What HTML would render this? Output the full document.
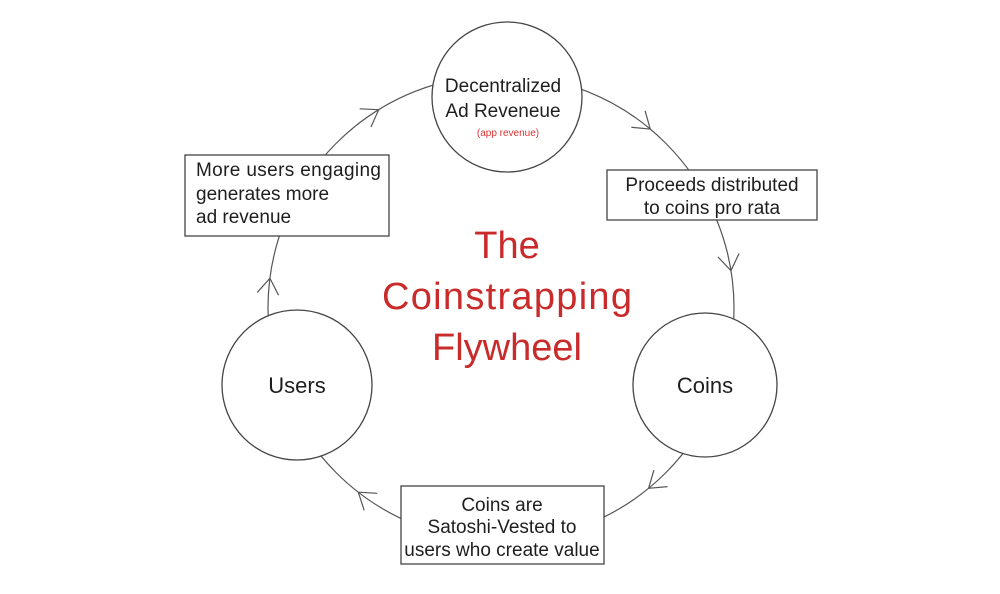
<!DOCTYPE html>
<html><head><meta charset="utf-8"><style>
html,body{margin:0;padding:0;background:#fff;}
svg{display:block}
text{font-family:"Liberation Sans","DejaVu Sans",sans-serif;fill:#1e1e1e}
</style></head><body>
<svg id="s" width="1000" height="594" viewBox="0 0 1000 594" xmlns="http://www.w3.org/2000/svg">
<rect width="1000" height="594" fill="#fff"/>
<circle cx="501" cy="308" r="233" fill="none" stroke="#555" stroke-width="1.2"/>
<g id="arrows" stroke="#555" stroke-width="1.2" fill="none"></g>
<g stroke="#444" stroke-width="1.3" fill="#fff">
<circle cx="507" cy="97" r="75"/>
<circle cx="705" cy="385" r="72"/>
<circle cx="297" cy="385" r="75"/>
<rect x="185" y="155" width="204" height="81"/>
<rect x="607" y="170" width="210" height="50"/>
<rect x="401" y="486" width="203" height="78"/>
</g>
<g font-size="19" text-anchor="middle">
<text x="503" y="92">Decentralized</text>
<text x="503" y="117">Ad Reveneue</text>
<text x="508" y="136" font-size="10" style="fill:#d33">(app revenue)</text>
<text x="705" y="393" font-size="22">Coins</text>
<text x="297" y="393" font-size="22">Users</text>
<text x="712" y="191">Proceeds distributed</text>
<text x="712" y="214">to coins pro rata</text>
<text x="502" y="511">Coins are</text>
<text x="502" y="533">Satoshi-Vested to</text>
<text x="502" y="556">users who create value</text>
</g>
<g font-size="19">
<text x="196" y="176" textLength="185">More users engaging</text>
<text x="196" y="200">generates more</text>
<text x="196" y="223">ad revenue</text>
</g>
<g font-size="38" text-anchor="middle">
<text x="507" y="258" style="fill:#c92a2a">The</text>
<text x="507" y="309" style="fill:#c92a2a" textLength="250">Coinstrapping</text>
<text x="507" y="360" style="fill:#c92a2a">Flywheel</text>
</g>
</svg>
<script>
var g=document.getElementById('arrows'),cx=501,cy=308,r=233;
[[377,107],[652,127],[735,270],[650,490],[360,490],[268,278]].forEach(function(p){
 var t=Math.atan2(p[1]-cy,p[0]-cx),x=cx+r*Math.cos(t),y=cy+r*Math.sin(t);
 var dx=-Math.sin(t),dy=Math.cos(t),L=19,a=0.6;
 var s='';
 [a,-a].forEach(function(b){
  var bx=-(dx*Math.cos(b)-dy*Math.sin(b)),by=-(dx*Math.sin(b)+dy*Math.cos(b));
  s+='M'+x+' '+y+' L'+(x+bx*L)+' '+(y+by*L)+' ';
 });
 var e=document.createElementNS('http://www.w3.org/2000/svg','path');e.setAttribute('d',s);g.appendChild(e);
});
</script>
</body></html>
